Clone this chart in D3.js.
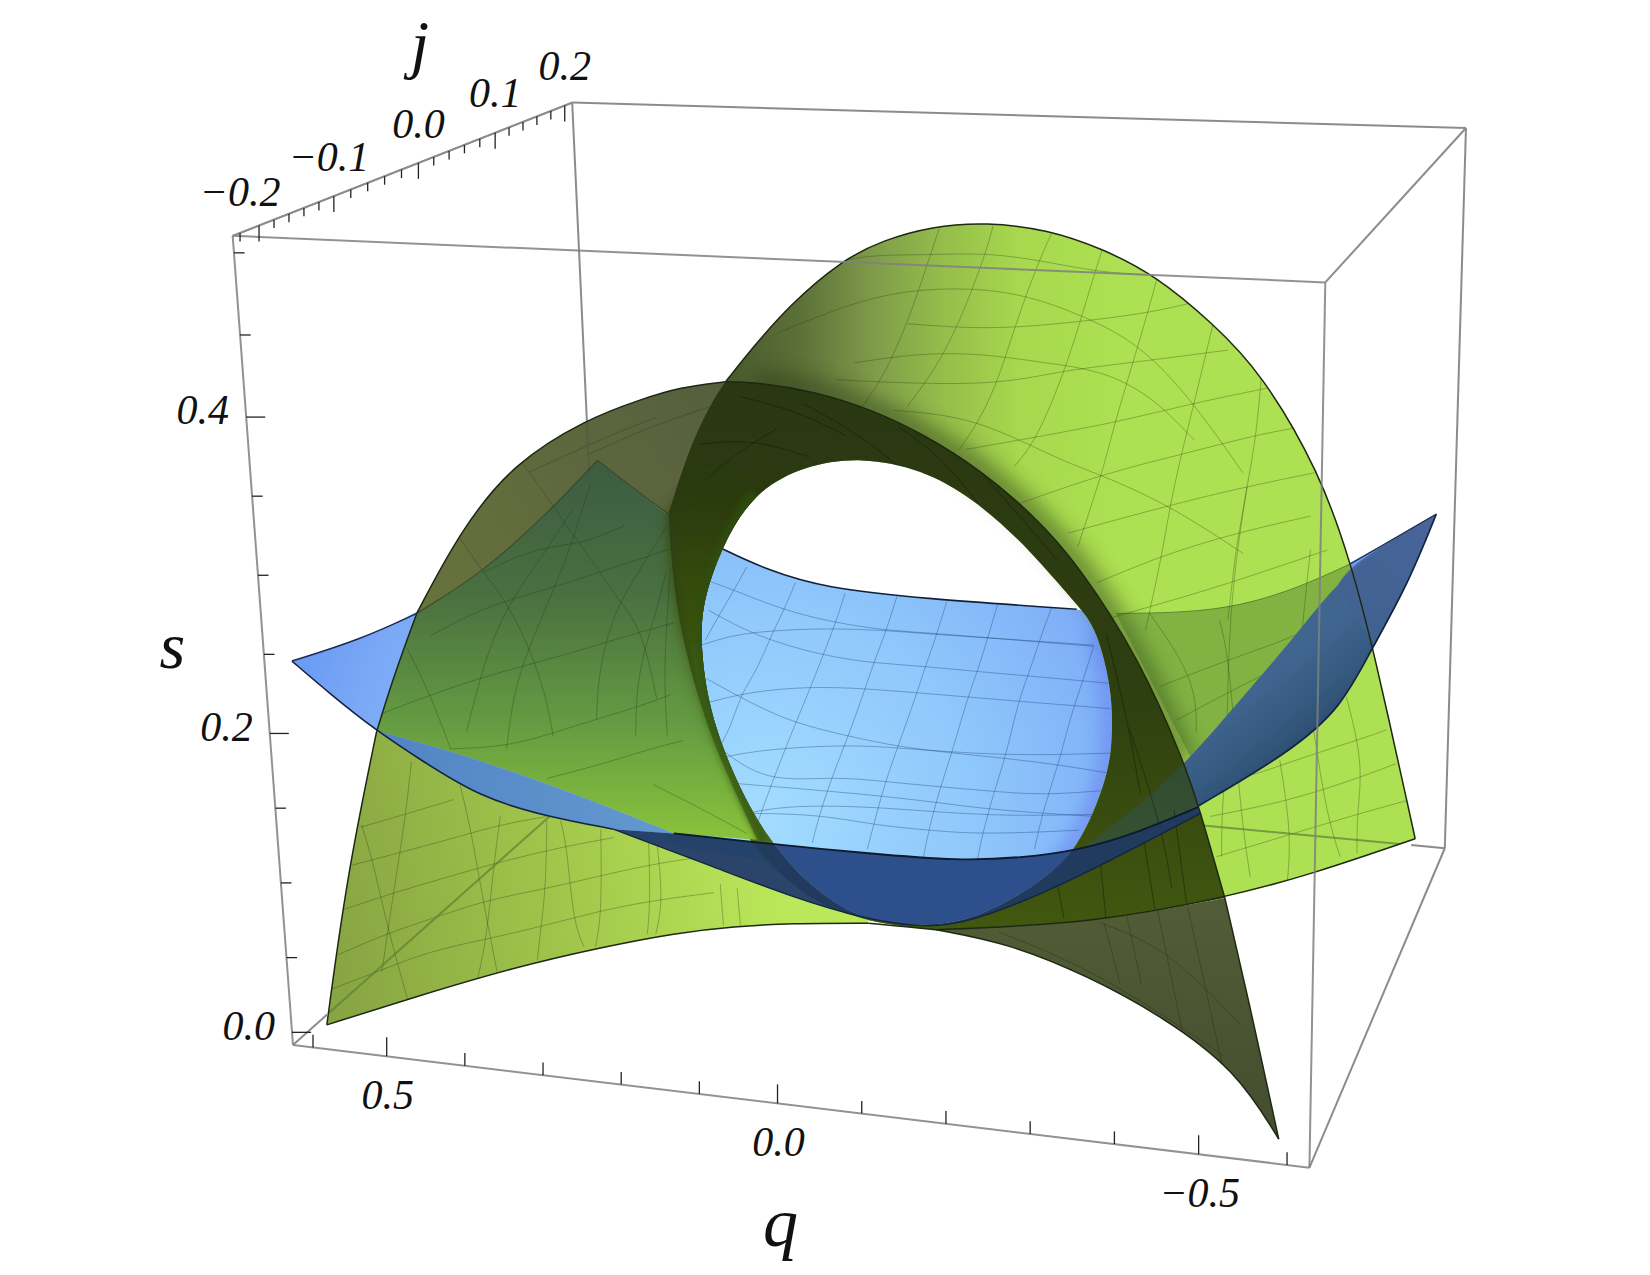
<!DOCTYPE html>
<html>
<head>
<meta charset="utf-8">
<script src="https://d3js.org/d3.v7.min.js"></script>
<style>
  body { margin: 0; background: white; }
  text { font-family: "Liberation Serif", serif; font-style: italic; fill: #111; }
</style>
</head>
<body>
<svg width="1650" height="1275"></svg>
<script>

// Axis values
var qMajor = [0.5, 0, -0.5];
var qMinor = [0.6, 0.4, 0.3, 0.2, 0.1, -0.1, -0.2, -0.3, -0.4, -0.6];
var sMajor = [0, 0.2, 0.4];
var sMinor = [0.05, 0.1, 0.15, 0.25, 0.3, 0.35, 0.45, 0.5];
var jMajor = [-0.2, -0.1, 0, 0.1, 0.2];
var jMinor = [-0.22, -0.18, -0.16, -0.14, -0.12, -0.08, -0.06, -0.04, -0.02,
              0.02, 0.04, 0.06, 0.08, 0.12, 0.14, 0.16, 0.18];

// Box corners (view units, 1560 wide)
var topLeft = [220, 223], topBack = [541, 97], topRight = [1386, 121], topFront = [1253, 267];
var botLeft = [277, 988], botFront = [1238, 1104], botRight = [1366, 802], botBack = [570, 727];

// Where the axis values fall along their box edges (perspective makes them uneven)
var qDomain = [0.6, 0.5, 0, -0.5, -0.6], qAlong = [0.0197, 0.0922, 0.4767, 0.891, 0.978];
var sDomain = [0, 0.2, 0.4, 0.5], sAlong = [0.0156, 0.385, 0.776, 0.979];
var jDomain = [-0.22, -0.2, -0.1, 0, 0.1, 0.2], jAlong = [0.0217, 0.0776, 0.298, 0.547, 0.773, 0.978];

// Outlines of the green sheet
var frontLeftLow = [[309,969],[328,828],[356,692]];
var frontLeftMid = [[356,692],[372,640],[394,580]];
var frontLeftHigh = [[394,580],[435,502],[485,438],[555,396],[605,378],[643,366],[686,361]];
var frontRightHigh = [[686,361],[712,361],[771,370],[826,388],[872,410],[927,444],[978,488],[1019,533],[1078,624],[1120,722],[1133,761],[1158,849]];
var frontRightLow = [[1158,849],[1178,934],[1209,1077]];
var lowerRight = [[1209,1077],[1168,1011],[1099,961],[1029,923],[954,892],[885,879]];
var lowerLeft = [[821,873],[748,873],[694,876],[640,882],[567,896],[485,915],[391,943],[309,969]];
var lowerMiddle = [[821,873],[855,876],[885,879]];
var backArc = [[686,361],[712,328],[748,287],[796,246],[835,227],[881,214],[932,210],[991,217],[1042,235],[1092,260],[1147,306],[1193,353],[1248,447],[1277,532],[1298,611],[1338,793]];
var backBottom = [[1338,793],[1242,826],[1158,849],[1029,873],[910,878],[885,879]];
var backLeft = [[632,486],[652,422],[674,378],[686,361]];
var tubeLeft = [[632,486],[636,549],[646,609],[668,688],[700,760],[716,794]];
var hole = [[815,432],[872,444],[918,470],[964,510],[1000,551],[1023,577],[1037,596],[1051,650],[1052,695],[1048,734],[1020,803],[983,835],[929,866],[886,876],[828,873],[784,854],[723,797],[672,687],[662,610],[664,570],[682,517],[712,466],[760,440]];
var holeLeftRim = [[723,797],[672,687],[662,610],[664,570],[682,517],[712,466]];
var holeRightRim = [[1037,596],[1051,650],[1052,695],[1048,734],[1020,803],[983,835]];

// Outlines of the blue sheet
var blueUpperLeft = [[276,625],[340,605],[394,580],[457,541],[517,486],[565,435]];
var blueUpperRight = [[565,435],[630,486],[681,518],[725,539],[780,556],[872,566],[1018,576],[1055,580],[1147,579],[1216,561],[1277,533],[1358,486]];
var blueInnerRight = [[1358,486],[1277,533],[1222,605],[1178,655],[1123,720],[1072,766],[1020,804]];
var blueOuterRight = [[1358,486],[1330,555],[1298,611],[1268,670],[1218,712],[1133,762]];
var lensTop = [[1133,763],[1074,788],[1020,804],[965,811],[908,814],[821,807],[720,797],[637,788]];
var stripTop = [[637,788],[548,752],[441,714],[356,691]];
var blueLowerLeft = [[276,625],[312,656],[356,691],[397,718],[454,754],[517,772],[580,784]];
var lensBottom = [[580,784],[676,820],[748,848],[821,870],[875,877],[911,873],[965,854],[1038,820],[1135,769]];

// Mesh curves seen in the blue sheet through the hole
var meshHole = [
  [[706,536],[694,558],[679,583],[667,605]],
  [[752,551],[741,577],[730,599],[715,635],[701,655],[690,690],[677,712]],
  [[799,561],[790,589],[778,620],[766,651],[752,684],[741,712],[726,750],[712,791]],
  [[848,564],[838,596],[826,627],[817,654],[802,696],[788,731],[775,769],[768,797]],
  [[895,569],[886,599],[875,630],[867,655],[849,706],[837,739],[826,780],[820,803]],
  [[943,572],[934,603],[924,635],[915,659],[900,712],[889,744],[878,785],[873,811]],
  [[994,575],[983,605],[972,639],[963,662],[951,715],[940,748],[929,788],[924,813]],
  [[1034,611],[1024,643],[1012,678],[1001,722],[987,763],[978,803]],
  [[672,550],[694,558],[741,577],[790,589],[838,596],[886,599],[934,603],[983,607],[1034,611]],
  [[663,610],[694,600],[733,596],[784,594],[838,596],[886,600],[934,603],[1034,610]],
  [[670,577],[715,602],[778,620],[826,627],[875,630],[924,635],[972,639],[1048,646]],
  [[667,665],[708,654],[766,649],[817,651],[867,655],[915,659],[963,663],[1050,670]],
  [[665,640],[712,666],[752,684],[802,696],[849,706],[900,712],[951,717],[1001,723],[1048,731]],
  [[676,718],[715,709],[799,704],[849,707],[951,715],[1052,712]],
  [[686,740],[784,748],[837,753],[889,759],[940,766],[1036,772]],
  [[679,706],[723,740],[788,734],[837,739],[889,744],[937,748],[987,752],[1048,747]],
  [[706,769],[748,761],[835,763],[933,772],[1034,770]],
  [[708,769],[775,770],[826,780],[878,785],[929,789],[1020,785]]
];

// Mesh curves on the back of the green sheet
var meshBack = [
  [[888,216],[877,249],[858,306],[833,361],[810,391]],
  [[939,213],[932,239],[920,271],[908,302],[886,347],[858,384]],
  [[994,221],[980,252],[959,310],[943,362],[925,399],[907,425]],
  [[1042,236],[1033,265],[1023,298],[1007,350],[980,416],[959,441]],
  [[1094,263],[1085,296],[1069,350],[1053,403],[1044,441],[1019,517]],
  [[1147,306],[1129,381],[1117,429],[1106,479],[1099,523],[1083,596]],
  [[1193,350],[1188,411],[1179,460],[1172,501],[1168,523],[1161,586]],
  [[799,246],[826,241],[881,241],[932,239],[982,246],[1037,257],[1083,260]],
  [[735,315],[803,287],[858,274],[920,272],[971,279],[1023,298],[1078,325],[1129,381],[1175,447]],
  [[858,306],[908,310],[959,310],[1023,304],[1085,296],[1124,287]],
  [[790,359],[849,362],[943,364],[1007,350],[1069,343],[1161,331]],
  [[808,343],[868,334],[927,334],[987,343],[1042,350],[1090,375],[1129,416]],
  [[913,425],[964,416],[1053,400],[1129,381],[1198,367]],
  [[845,388],[886,391],[927,400],[964,416],[1010,438],[1046,451],[1108,479],[1175,523]],
  [[964,476],[1046,447],[1120,429],[1188,411],[1234,403]],
  [[1010,504],[1108,477],[1179,460],[1243,447]],
  [[1037,551],[1099,525],[1168,504],[1239,488]],
  [[1030,590],[1100,570],[1161,552],[1255,520]],
  [[1179,460],[1166,545],[1161,624],[1160,712],[1155,769],[1155,810]],
  [[1239,520],[1229,612],[1226,675]],
  [[1210,719],[1221,788],[1217,835]],
  [[1273,659],[1289,722],[1283,769],[1283,807]],
  [[1087,580],[1131,643],[1131,693]],
  [[1153,586],[1163,627],[1172,763],[1182,829]],
  [[1242,690],[1254,769],[1267,810]],
  [[1097,649],[1160,624],[1226,602],[1270,577]],
  [[1112,681],[1172,649],[1223,624]],
  [[1144,772],[1220,757],[1283,736],[1320,722]],
  [[1150,810],[1223,788],[1286,769],[1330,757]],
  [[1160,731],[1172,738],[1223,719],[1289,698],[1311,690]]
];

// Mesh curves on the left arm of the green sheet
var meshLeft = [
  [[342,780],[353,816],[367,880],[386,947]],
  [[389,720],[383,776],[372,844],[361,919]],
  [[435,742],[446,788],[456,848],[470,919]],
  [[473,772],[467,816],[460,888],[451,928]],
  [[517,776],[516,840],[511,880],[508,908]],
  [[530,776],[536,800],[542,872],[552,895]],
  [[568,784],[569,864],[563,895]],
  [[613,788],[615,852],[612,883]],
  [[621,796],[627,852],[620,883]],
  [[681,836],[684,875]],
  [[697,840],[700,875]],
  [[341,782],[383,770],[429,756]],
  [[333,818],[424,794],[471,780],[517,772]],
  [[325,860],[372,844],[421,830],[468,816],[535,800],[580,792]],
  [[319,903],[367,882],[416,866],[460,851],[517,840],[568,828],[621,816],[681,808]],
  [[314,935],[361,917],[407,899],[460,888],[512,876],[564,862],[613,852],[675,844]],
  [[385,613],[407,657],[426,708]],
  [[441,692],[460,617],[482,569],[508,533],[542,481]],
  [[479,708],[486,649],[508,593],[536,529],[558,458]],
  [[523,696],[516,657],[501,613],[479,569],[457,541],[432,505]],
  [[564,680],[566,633],[580,581],[596,553],[630,498]],
  [[601,696],[602,637],[621,577],[630,540]],
  [[631,696],[627,633],[634,537]],
  [[621,661],[607,595],[586,569],[567,541],[549,515],[530,489],[501,446],[478,420]],
  [[360,675],[407,657],[454,641],[497,629],[542,617],[593,601],[637,589]],
  [[426,708],[479,706],[523,693],[564,680],[601,669],[634,657]],
  [[517,736],[564,724],[608,710],[646,700]],
  [[618,742],[662,764],[706,788]],
  [[407,601],[460,573],[505,561],[567,541],[634,519]],
  [[457,541],[508,517],[549,515],[590,497]],
  [[501,446],[580,410],[620,395]],
  [[555,430],[618,402],[670,385]]
];

// Mesh curves on the lower right arm
var meshTip = [
  [[1044,873],[1059,930]],
  [[1093,854],[1118,976]],
  [[1123,858],[1158,1018]],
  [[1064,860],[1079,930]],
  [[944,881],[1039,919],[1158,999]],
  [[1039,872],[1103,896],[1173,969]]
];

// Mesh curves just visible in the dark band around the hole
var meshDark = [
  [[1000,838],[1006,868]],
  [[1040,812],[1046,872]],
  [[1080,786],[1092,860]],
  [[1110,766],[1122,856]],
  [[1068,690],[1098,780],[1108,840]],
  [[1046,600],[1066,680],[1078,750]],
  [[660,420],[712,415],[765,432]],
  [[700,375],[752,388],[800,412]],
  [[760,382],[812,410],[858,448]],
  [[850,404],[890,432],[925,476]],
  [[930,450],[966,490],[1000,530]],
  [[650,470],[690,432],[735,405]]
];

var svg = d3.select('svg');
var defs = svg.append('defs');

// view units to pixels
var xView = d3.scaleLinear().domain([0, 1560]).range([0, 1650]);
var yView = d3.scaleLinear().domain([0, 1205.5]).range([0, 1275]);
var viewLine = d3.line().x(function(d) { return xView(d[0]); }).y(function(d) { return yView(d[1]); })
  .curve(d3.curveBasis);
var closedLine = d3.line().x(function(d) { return xView(d[0]); }).y(function(d) { return yView(d[1]); })
  .curve(d3.curveBasisClosed);

// join several edges into one closed region, keeping the corners sharp
function region() {
  var parts = Array.prototype.slice.call(arguments).map(function(e) { return viewLine(e); });
  return parts.map(function(p, i) { return i == 0 ? p : p.replace(/^M/, 'L'); }).join('') + 'Z';
}
function rev(a) { return a.slice().reverse(); }

function gradient(id, x1, y1, x2, y2, stops) {
  var g = defs.append('linearGradient').attr('id', id).attr('gradientUnits', 'userSpaceOnUse')
    .attr('x1', xView(x1)).attr('y1', yView(y1)).attr('x2', xView(x2)).attr('y2', yView(y2));
  stops.forEach(function(s) { g.append('stop').attr('offset', s[0]).attr('stop-color', s[1]); });
}

gradient('backGrad', 690, 0, 1060, 0, [[0, '#4c5b2e'], [0.18, '#5c7038'], [0.37, '#7f9c4a'], [0.53, '#93bb4a'], [0.74, '#a7d84e'], [1, '#ade052']]);
gradient('frontGrad', 0, 380, 0, 880, [[0, '#2a3812'], [0.55, '#2e3f10'], [1, '#42580f']]);
gradient('oliveGrad', 400, 560, 680, 370, [[0, '#67723c'], [1, '#565f3e']]);
gradient('armGrad', 0, 440, 0, 790, [[0, '#3d5c42'], [0.35, '#4a7040'], [0.7, '#659c42'], [1, '#88c23c']]);
gradient('tubeGrad', 0, 470, 0, 800, [[0, '#2b3a10'], [0.4, '#3a5510'], [0.65, '#4c7a24'], [1, '#8fc83c']]);
gradient('litGrad', 320, 920, 740, 850, [[0, '#87a543'], [0.55, '#a3c84b'], [1, '#bbe85a']]);
gradient('stripGrad', 356, 0, 640, 0, [[0, '#4e80c0'], [1, '#5e94cc']]);
gradient('tipGrad', 0, 850, 0, 1077, [[0, '#525c36'], [1, '#444e30']]);
gradient('bandGrad', 1180, 655, 1232, 720, [[0, '#40658f'], [0.5, '#35597f'], [1, '#2a4a6c']]);
gradient('tipBlueGrad', 1270, 600, 1358, 486, [[0, '#40628f'], [1, '#4a649c']]);

var bl = defs.append('radialGradient').attr('id', 'blueGrad').attr('gradientUnits', 'userSpaceOnUse')
  .attr('cx', xView(720)).attr('cy', yView(770)).attr('r', xView(450));
[[0, '#a3dcff'], [0.45, '#8fc8fb'], [0.75, '#80b0f8'], [0.88, '#7aa8f6'], [1, '#6c9cf5']].forEach(function(s) {
  bl.append('stop').attr('offset', s[0]).attr('stop-color', s[1]);
});

function blurFilter(id, amount) {
  defs.append('filter').attr('id', id).attr('x', '-30%').attr('y', '-30%').attr('width', '160%').attr('height', '160%')
    .append('feGaussianBlur').attr('stdDeviation', amount);
}
blurFilter('rim', 3);
blurFilter('soft', 7);
blurFilter('softer', 10);

// region shapes
var holePath = closedLine(hole);
var sheetInner = [[885,879],[821,873],[760,850],[700,790],[650,690],[630,600],[632,486]];
var backSheet = region(backLeft, backArc, backBottom, sheetInner);
var frontOverBack = region(frontRightHigh, backBottom.slice(2), sheetInner, [[632,486],[636,372],[686,361]]);
var olivePart = region(frontLeftHigh, rev(backLeft), rev(blueUpperRight.slice(0, 2)), rev(blueUpperLeft.slice(2)));
var armPart = region(blueUpperLeft.slice(2), blueUpperRight.slice(0, 2), tubeLeft, [[716,794],[637,788]], stripTop, frontLeftMid);
var litPart = region(blueLowerLeft.slice(2), lensBottom.slice(0, 4), lowerLeft, frontLeftLow);
var stripPart = region(stripTop, blueLowerLeft.slice(2), [[580,784],[637,788]]);
var tipPart = region(frontRightLow, lowerRight, rev(backBottom.slice(2)));
var blueTop = region(blueUpperLeft, blueUpperRight, blueInnerRight, [[1020,824],[908,834],[720,815],[580,790]], rev(blueLowerLeft));
var throughPart = region([[1055,580],[1147,579],[1216,561],[1277,533]], [[1277,533],[1290,540],[1232,612],[1188,664],[1132,728]], [[1132,728],[1078,624],[1055,580]]);
var bandPart = region(blueInnerRight, [[1020,804],[1074,788],[1133,763]], rev(blueOuterRight));
var bandTip = region([[1358,486],[1277,533],[1264,555]], [[1264,555],[1300,610]], [[1300,610],[1330,555],[1358,486]]);
var lensPart = region(lensTop, [[637,788],[580,784]], lensBottom);

function clipOf(id, d, evenodd) {
  var p = defs.append('clipPath').attr('id', id).append('path').attr('d', d);
  if (evenodd) { p.attr('clip-rule', 'evenodd'); }
}
clipOf('clipHole', holePath);
clipOf('clipBack', backSheet);
clipOf('clipFront', frontOverBack);
clipOf('clipOlive', olivePart);
clipOf('clipLit', litPart);
clipOf('clipOutHole', 'M0,0H1650V1275H0Z' + holePath, true);
clipOf('clipLeft', region(frontLeftHigh, rev(backLeft), tubeLeft, [[716,794],[637,788]], lensBottom.slice(0, 4), lowerLeft, frontLeftLow, frontLeftMid));
clipOf('clipTip', tipPart);

function paint(parent, d, fill, opacity) {
  return parent.append('path').attr('d', d).attr('fill', fill).attr('opacity', opacity === undefined ? 1 : opacity).attr('fill-rule', 'evenodd');
}
function edgeLine(parent, pts, color, width, opacity) {
  return parent.append('path').attr('d', viewLine(pts)).attr('fill', 'none')
    .attr('stroke', color).attr('stroke-width', width).attr('opacity', opacity === undefined ? 1 : opacity);
}
function boxLine(parent, a, b, color, width, opacity) {
  return parent.append('line')
    .attr('x1', xView(a[0])).attr('y1', yView(a[1])).attr('x2', xView(b[0])).attr('y2', yView(b[1]))
    .attr('stroke', color).attr('stroke-width', width).attr('opacity', opacity === undefined ? 1 : opacity);
}
function mesh(parent, curves, color, width) {
  parent.selectAll(null).data(curves).enter().append('path')
    .attr('d', function(d) { return viewLine(d); })
    .attr('fill', 'none').attr('stroke', color).attr('stroke-width', width);
}
function along(a, b, t) { return [a[0] + (b[0] - a[0]) * t, a[1] + (b[1] - a[1]) * t]; }

var root = svg.append('g');
root.append('rect').attr('width', 1650).attr('height', 1275).attr('fill', 'white');

// box edges behind the surfaces
[[topLeft, topBack], [topBack, topRight], [topRight, topFront], [topBack, botBack], [topRight, botRight], [botRight, botFront]].forEach(function(e) {
  boxLine(root, e[0], e[1], '#8c8c8c', 2);
});

// blue sheet, upper side
paint(root, blueTop, 'url(#blueGrad)');
var hm = root.append('g').attr('clip-path', 'url(#clipHole)');
edgeLine(hm, holeRightRim, '#6a86ee', 24, 0.55).attr('filter', 'url(#soft)');
mesh(hm, meshHole, 'rgba(28,60,110,0.36)', 1);
edgeLine(root, blueUpperRight.slice(2, 7), '#10203a', 1.6);

// back of the green sheet with the hole through it
paint(root, backSheet + holePath, 'url(#backGrad)');
var bk = root.append('g').attr('clip-path', 'url(#clipBack)');
bk.append('path').attr('d', viewLine(frontRightHigh.slice(1, 10))).attr('fill', 'none').attr('stroke', '#2c3a12')
  .attr('stroke-width', 26).attr('opacity', 0.5).attr('filter', 'url(#softer)');
paint(bk, throughPart, '#3c6a2a', 0.38);
edgeLine(bk, [[1055,580],[1147,579],[1216,561],[1277,533]], '#3f6a2a', 1, 0.7);
var bkOut = bk.append('g').attr('clip-path', 'url(#clipOutHole)');
mesh(bkOut, meshBack, 'rgba(40,60,20,0.32)', 1);
boxLine(bkOut, botBack, botRight, '#5f7f3a', 2, 0.7);

// blue sheet, right hand band in front of the back sheet
paint(root, bandPart, 'url(#bandGrad)');
paint(root, bandTip, 'url(#tipBlueGrad)', 0.9);

// front of the green sheet where it lies over the back of it
paint(root, frontOverBack + holePath, 'url(#frontGrad)');
var fr = root.append('g').attr('clip-path', 'url(#clipFront)');
paint(fr, bandPart, '#2c5878', 0.32);
var frOut = fr.append('g').attr('clip-path', 'url(#clipOutHole)');
mesh(frOut, meshDark, 'rgba(12,18,6,0.4)', 1);

// the parts of the front sheet that have only white or blue behind them
paint(root, olivePart, 'url(#oliveGrad)');
paint(root, armPart, 'url(#armGrad)');
paint(root, litPart, 'url(#litGrad)');
paint(root, tipPart, 'url(#tipGrad)');
var tb = root.append('g').attr('clip-path', 'url(#clipOutHole)');
paint(tb, region([[632,486],[652,460],[690,440],[720,470]], [[720,470],[680,600],[700,740],[740,830]], [[740,830],[716,794]], rev(tubeLeft)), 'url(#tubeGrad)').attr('filter', 'url(#soft)');
edgeLine(tb, holeLeftRim, '#2f5010', 11, 0.75).attr('filter', 'url(#rim)');
paint(root, stripPart, 'url(#stripGrad)', 0.92);

// green meshes
var lm = root.append('g').attr('clip-path', 'url(#clipLeft)');
mesh(lm, meshLeft, 'rgba(30,50,20,0.3)', 1);
var tm = root.append('g').attr('clip-path', 'url(#clipTip)');
mesh(tm, meshTip, 'rgba(25,35,15,0.3)', 1);
root.append('g').attr('clip-path', 'url(#clipOlive)').call(function(g) { boxLine(g, topBack, botBack, '#5a5a40', 2, 0.8); });
root.append('g').attr('clip-path', 'url(#clipLit)').call(function(g) { boxLine(g, botLeft, botBack, '#5f7f30', 2, 0.7); });

// underside of the blue sheet, dark lens
var lensIn = root.append('g').attr('clip-path', 'url(#clipHole)');
paint(lensIn, lensPart, '#2d4f8b');
var lensOut = root.append('g').attr('clip-path', 'url(#clipOutHole)');
paint(lensOut, lensPart, '#1f3a62', 0.95);

// outlines
[frontLeftLow, frontLeftMid, frontLeftHigh, frontRightHigh, frontRightLow, lowerRight, lowerLeft, lowerMiddle, backArc, backBottom].forEach(function(e) {
  edgeLine(root, e, '#1e2812', 1.5);
});
edgeLine(root, blueUpperLeft.slice(0, 3), '#1c2c50', 1.5);
edgeLine(root, blueUpperLeft.slice(2), '#2c3c20', 1.1, 0.8);
edgeLine(root, blueUpperRight.slice(0, 3), '#2c3c20', 1.1, 0.8);
edgeLine(root, blueLowerLeft, '#14243e', 1.6);
edgeLine(root, lensBottom, '#14243e', 1.4);
edgeLine(root, lensTop, '#0c1a2c', 1.8);
edgeLine(root, blueOuterRight, '#14243e', 1.7);
edgeLine(root, blueInnerRight.slice(0, 2), '#1c2c50', 1.3);

// box edges in front
[[topLeft, botLeft], [botLeft, botFront], [topLeft, topFront], [topFront, botFront]].forEach(function(e) {
  boxLine(root, e[0], e[1], '#808080', 2, 0.85);
});
boxLine(root, topLeft, topBack, '#8c8c8c', 2);
boxLine(root, botLeft, along(botLeft, botBack, 0.11), '#8c8c8c', 2);
boxLine(root, botRight, along(botRight, botBack, 0.04), '#8c8c8c', 2);

// axes: positions along the edges come from these scales
var qScale = d3.scaleLinear().domain(qDomain).range(qAlong);
var sScale = d3.scaleLinear().domain(sDomain).range(sAlong);
var jScale = d3.scaleLinear().domain(jDomain).range(jAlong);

function ticks(values, scale, a, b, dx, dy) {
  values.forEach(function(v) {
    var p = along(a, b, scale(v));
    boxLine(root, p, [p[0] + dx, p[1] + dy], '#222', 1.3);
  });
}
ticks(qMajor, qScale, botLeft, botFront, 0, -18);
ticks(qMinor, qScale, botLeft, botFront, 0, -12);
ticks(sMajor, sScale, botLeft, topLeft, 18, 0);
ticks(sMinor, sScale, botLeft, topLeft, 10, 0);
ticks(jMajor, jScale, topLeft, topBack, 0, 15);
ticks(jMinor, jScale, topLeft, topBack, 0, 8);

function fmt(v) { return (v < 0 ? '\u2212' : '') + Math.abs(v).toFixed(1); }
function labels(values, scale, a, b, dx, dy) {
  return root.selectAll(null).data(values).enter().append('text')
    .attr('x', function(d) { return xView(along(a, b, scale(d))[0] + dx); })
    .attr('y', function(d) { return yView(along(a, b, scale(d))[1] + dy); })
    .attr('text-anchor', 'middle').attr('font-size', 42)
    .text(fmt);
}
labels(qMajor, qScale, botLeft, botFront, 1, 50);
labels(sMajor, sScale, botLeft, topLeft, -41, 7);
// the negative j labels sit further out to the left
var jNudge = d3.scaleLinear().domain([-0.2, -0.1, 0, 0.2]).range([-19, -5, 0, 0]);
labels(jMajor, jScale, topLeft, topBack, 0, -24)
  .attr('transform', function(d) { return 'translate(' + jNudge(d) + ',' + (d < -0.15 ? 6 : 0) + ')'; });

root.append('text').attr('x', xView(163)).attr('y', yView(632)).attr('text-anchor', 'middle').attr('font-size', 66).text('s');
root.append('text').attr('x', xView(397)).attr('y', yView(62)).attr('text-anchor', 'middle').attr('font-size', 66).text('j');
root.append('text').attr('x', xView(738)).attr('y', yView(1178)).attr('text-anchor', 'middle').attr('font-size', 70).text('q');

</script>
</body>
</html>
